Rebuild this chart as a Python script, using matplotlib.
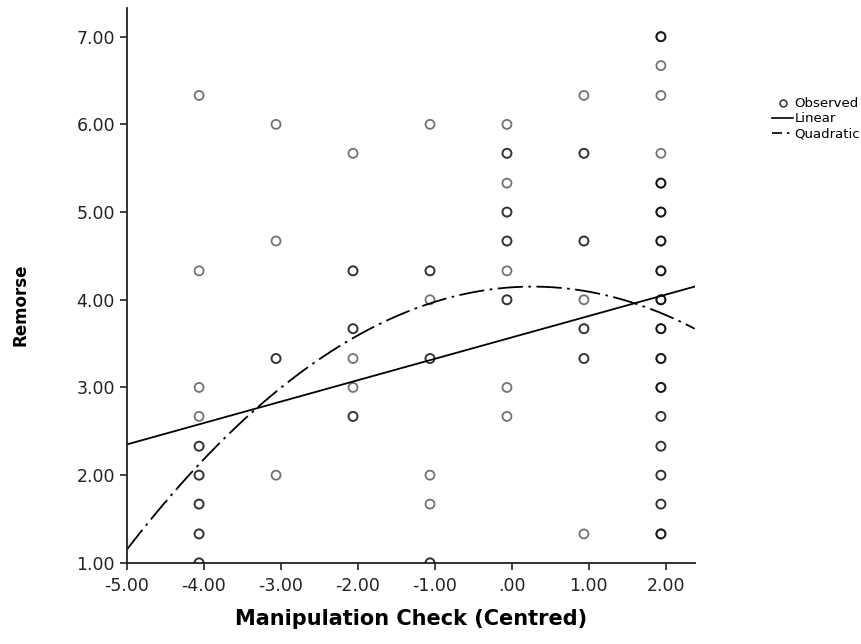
import numpy as np
import matplotlib
matplotlib.use("Agg")
import matplotlib.pyplot as plt
from matplotlib.lines import Line2D

# centred manipulation check values (one column of points each)
x_groups = [-4.06, -3.06, -2.06, -1.06, -0.06, 0.94, 1.94]

# remorse values seen in each column, with how many cases sit on each spot
y_m4 = [6.33, 4.33, 3.00, 2.67, 2.33, 2.00, 1.67, 1.33, 1.00]
n_m4 = [1, 1, 1, 1, 2, 2, 2, 2, 2]
y_m3 = [6.00, 4.67, 3.33, 2.00]
n_m3 = [1, 1, 2, 1]
y_m2 = [5.67, 4.33, 3.67, 3.33, 3.00, 2.67]
n_m2 = [1, 2, 2, 1, 1, 2]
y_m1 = [6.00, 4.33, 4.00, 3.33, 2.00, 1.67, 1.00]
n_m1 = [1, 2, 1, 2, 1, 1, 2]
y_0 = [6.00, 5.67, 5.33, 5.00, 4.67, 4.33, 4.00, 3.00, 2.67]
n_0 = [1, 2, 1, 2, 2, 1, 2, 1, 1]
y_p1 = [6.33, 5.67, 4.67, 4.00, 3.67, 3.33, 1.33]
n_p1 = [1, 2, 2, 1, 2, 2, 1]
y_p2 = [7.00, 6.67, 6.33, 5.67, 5.33, 5.00, 4.67, 4.33, 4.00,
        3.67, 3.33, 3.00, 2.67, 2.33, 2.00, 1.67, 1.33]
n_p2 = [3, 1, 1, 1, 3, 3, 3, 3, 3, 3, 3, 3, 2, 2, 2, 2, 3]

y_cols = [y_m4, y_m3, y_m2, y_m1, y_0, y_p1, y_p2]
n_cols = [n_m4, n_m3, n_m2, n_m1, n_0, n_p1, n_p2]

# fitted curves
lin_coef = [3.57, 0.244]             # a + b*x
quad_coef = [4.142, 0.0585, -0.108]  # a + b*x + c*x^2

x_ticks = [-5, -4, -3, -2, -1, 0, 1, 2]
x_ticklabels = ["-5.00", "-4.00", "-3.00", "-2.00", "-1.00", ".00", "1.00", "2.00"]
y_ticks = [1, 2, 3, 4, 5, 6, 7]
y_ticklabels = ["1.00", "2.00", "3.00", "4.00", "5.00", "6.00", "7.00"]

# --- build the individual cases ---
xs, ys = [], []
for xg, yc, nc in zip(x_groups, y_cols, n_cols):
    for yv, nv in zip(yc, nc):
        xs += [xg] * nv
        ys += [yv] * nv

fig = plt.figure(figsize=(8.62, 6.44), dpi=100)
ax = fig.add_axes([0.147, 0.126, 0.659, 0.862])

ax.scatter(xs, ys, s=42, facecolors="none", edgecolors=(0, 0, 0, 0.55),
           linewidths=1.3, zorder=3)

xx = np.linspace(-5, 2.38, 300)
ax.plot(xx, lin_coef[0] + lin_coef[1] * xx, color="black", lw=1.3, zorder=2)
ax.plot(xx, quad_coef[0] + quad_coef[1] * xx + quad_coef[2] * xx ** 2,
        color="black", lw=1.3, dashes=(14, 3, 1.5, 3), zorder=2)

ax.set_xlim(-5, 2.38)
ax.set_ylim(1, 7.33)
ax.set_xticks(x_ticks)
ax.set_xticklabels(x_ticklabels)
ax.set_yticks(y_ticks)
ax.set_yticklabels(y_ticklabels)
ax.tick_params(direction="out", length=5, width=1.2, labelsize=12.5,
               colors="#222222")
ax.tick_params(axis="x", pad=5)

for side in ["top", "right"]:
    ax.spines[side].set_visible(False)
for side in ["left", "bottom"]:
    ax.spines[side].set_linewidth(1.3)
    ax.spines[side].set_color("#222222")

ax.set_xlabel("Manipulation Check (Centred)", fontsize=15, fontweight="bold",
              labelpad=10)
ax.set_ylabel("Remorse", fontsize=12, fontweight="bold")
ax.yaxis.set_label_coords(-0.172, 0.465)

handles = [
    Line2D([], [], ls="none", marker="o", markersize=5, markerfacecolor="none",
           markeredgecolor="#333333", markeredgewidth=1.1),
    Line2D([], [], color="black", lw=1.2),
    Line2D([], [], color="black", lw=1.2, dashes=(6, 3, 1.5, 3)),
]
ax.legend(handles, ["Observed", "Linear", "Quadratic"], loc="upper left",
          bbox_to_anchor=(1.127, 0.848), frameon=False, fontsize=9.5,
          handlelength=1.6, handletextpad=0.1, labelspacing=0.15,
          borderaxespad=0)

fig.savefig("out.png", dpi=100)
